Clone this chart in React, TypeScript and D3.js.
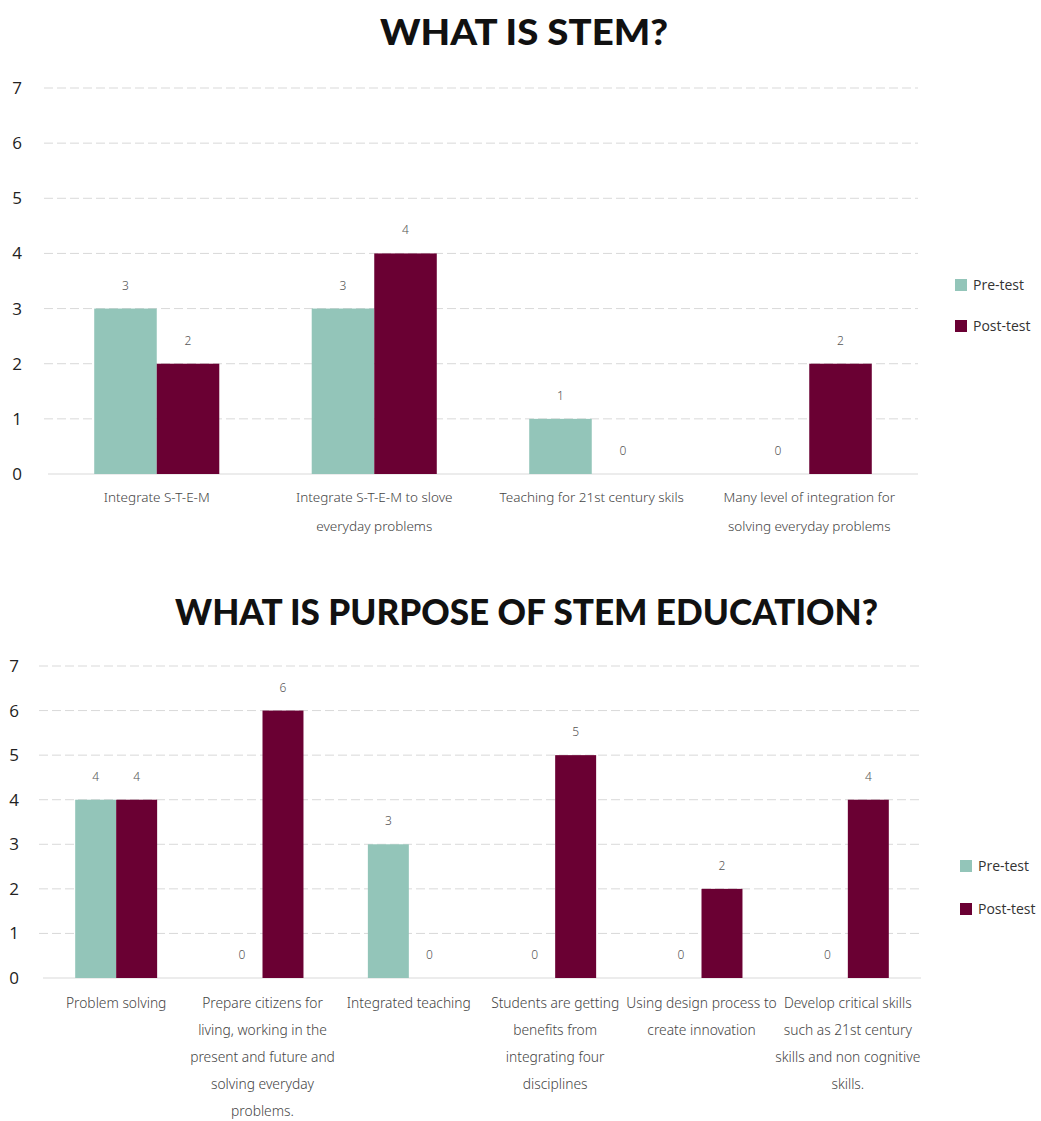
import React from "react";
import * as d3 from "d3";

const series = ["Pre-test", "Post-test"];
const colors = ["#93C5B9", "#6A0033"];
const yTicks = [0, 1, 2, 3, 4, 5, 6, 7];

const title1 = "WHAT IS STEM?";
const categories1 = [
  ["Integrate S-T-E-M"],
  ["Integrate S-T-E-M to slove", "everyday problems"],
  ["Teaching for 21st century skils"],
  ["Many level of integration for", "solving everyday problems"],
];
const pre1 = [3, 3, 1, 0];
const post1 = [2, 4, 0, 2];

const title2 = "WHAT IS PURPOSE OF STEM EDUCATION?";
const categories2 = [
  ["Problem solving"],
  ["Prepare citizens for", "living, working in the", "present and future and", "solving everyday", "problems."],
  ["Integrated teaching"],
  ["Students are getting", "benefits from", "integrating four", "disciplines"],
  ["Using design process to", "create innovation"],
  ["Develop critical skills", "such as 21st century", "skills and non cognitive", "skills."],
];
const pre2 = [4, 0, 3, 0, 0, 0];
const post2 = [4, 6, 0, 5, 2, 4];

type ChartProps = {
  title: string;
  titleX: number;
  titleY: number;
  titleW: number;
  cats: string[][];
  pre: number[];
  post: number[];
  x0: number;
  x1: number;
  yTop: number;
  yBottom: number;
  groupPad: number;
  tickX: number;
  labelY: number;
  lineH: number;
  labelSize: number;
  legendX: number;
  legendY: number[];
};

function BarChart(p: ChartProps) {
  const x = d3.scaleBand<number>().domain(p.cats.map((_, i) => i)).range([p.x0, p.x1]).paddingInner(0).paddingOuter(0);
  const bw = x.bandwidth();
  const gw = bw * (1 - p.groupPad);
  const xs = d3.scaleBand<number>().domain([0, 1]).range([0, gw]).padding(0);
  const y = d3.scaleLinear().domain([0, 7]).range([p.yBottom, p.yTop]);
  const vals = [p.pre, p.post];
  return (
    <g>
      <text x={p.titleX} y={p.titleY} textAnchor="middle" fontFamily="Lato, 'Open Sans', sans-serif" fontWeight={900} fontSize={36} fill="#111" textLength={p.titleW} lengthAdjust="spacingAndGlyphs">
        {p.title}
      </text>
      {yTicks.map((t) => (
        <g key={t}>
          {t > 0 && (
            <line x1={p.x0 - 4} x2={p.x1} y1={y(t)} y2={y(t)} stroke="#d9d9d9" strokeWidth={1} strokeDasharray="9,4" />
          )}
          <text x={p.tickX} y={y(t)} dy="0.35em" textAnchor="middle" fontFamily="'Open Sans', sans-serif" fontSize={17} fill="#222">
            {t}
          </text>
        </g>
      ))}
      <line x1={p.x0} x2={p.x1} y1={y(0)} y2={y(0)} stroke="#d9d9d9" strokeWidth={1} />
      {p.cats.map((c, i) => {
        const gx = (x(i) as number) + (bw - gw) / 2;
        return (
          <g key={i}>
            {vals.map((v, s) => {
              const bx = gx + (xs(s) as number);
              return (
                <g key={s}>
                  {v[i] > 0 && (
                    <rect x={bx} y={y(v[i])} width={xs.bandwidth()} height={y(0) - y(v[i])} fill={colors[s]} />
                  )}
                  <text x={bx + xs.bandwidth() / 2} y={y(v[i]) - 19} textAnchor="middle" fontFamily="'Noto Sans', sans-serif" fontWeight={300} fontSize={12} fill="#555">
                    {v[i]}
                  </text>
                </g>
              );
            })}
            {c.map((line, k) => (
              <text key={k} x={(x(i) as number) + bw / 2} y={p.labelY + k * p.lineH} dy="0.35em" textAnchor="middle" fontFamily="'Noto Sans', sans-serif" fontWeight={300} fontSize={p.labelSize} fill="#444">
                {line}
              </text>
            ))}
          </g>
        );
      })}
      {series.map((s, k) => (
        <g key={s}>
          <rect x={p.legendX} y={p.legendY[k] - 6} width={12} height={12} fill={colors[k]} />
          <text x={p.legendX + 18} y={p.legendY[k]} dy="0.35em" fontFamily="'Open Sans', sans-serif" fontSize={14} fill="#333">
            {s}
          </text>
        </g>
      ))}
    </g>
  );
}

export default function App() {
  return (
    <div style={{ position: "absolute", left: 0, top: 0 }}>
      <svg width={1041} height={1121} style={{ display: "block", background: "#fff" }}>
        <BarChart
          title={title1}
          titleX={524}
          titleY={45}
          titleW={288}
          cats={categories1}
          pre={pre1}
          post={post1}
          x0={48}
          x1={918}
          yTop={88}
          yBottom={474}
          groupPad={0.425}
          tickX={17}
          labelY={497}
          lineH={29}
          labelSize={13.5}
          legendX={955}
          legendY={[285, 326]}
        />
        <BarChart
          title={title2}
          titleX={526.5}
          titleY={625}
          titleW={703}
          cats={categories2}
          pre={pre2}
          post={post2}
          x0={43}
          x1={921}
          yTop={666}
          yBottom={978}
          groupPad={0.44}
          tickX={14}
          labelY={1003}
          lineH={27}
          labelSize={13.8}
          legendX={960}
          legendY={[866, 909]}
        />
      </svg>
    </div>
  );
}
